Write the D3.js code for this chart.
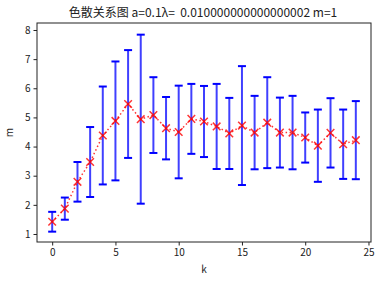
<!DOCTYPE html>
<html>
<head>
<meta charset="utf-8">
<script src="https://cdn.jsdelivr.net/npm/d3@7"></script>
<style>
  body { margin: 0; background: #fff; }
  svg text { font-family: "Noto Sans CJK SC", "DejaVu Sans", sans-serif; fill: #222; }
</style>
</head>
<body>
<svg id="chart"></svg>
<script>
// k values, mean of m and half-width of the error bar
const ks = d3.range(0, 25);
const means = [1.42, 1.87, 2.79, 3.47, 4.38, 4.88, 5.46, 4.94, 5.08, 4.63, 4.50, 4.95, 4.86,
               4.69, 4.45, 4.72, 4.48, 4.82, 4.48, 4.48, 4.31, 4.03, 4.47, 4.08, 4.22];
const errs = [0.34, 0.38, 0.68, 1.20, 1.68, 2.04, 1.85, 2.90, 1.30, 1.07, 1.59, 1.20, 1.22,
              1.46, 1.22, 2.04, 1.26, 1.56, 1.20, 1.26, 0.86, 1.24, 1.19, 1.19, 1.34];
const xTicks = [0, 5, 10, 15, 20, 25];
const yTicks = [1, 2, 3, 4, 5, 6, 7, 8];
const title = "色散关系图 a=0.1λ=  0.010000000000000002 m=1";

const width = 381, height = 284;
const plot = { left: 37, right: 371, top: 23, bottom: 242 };

const svg = d3.select('#chart')
  .attr('width', width)
  .attr('height', height);

const data = ks.map((k, i) => ({ k: k, m: means[i], e: errs[i] }));

const x = d3.scaleLinear().domain([-1.2, 25.2]).range([plot.left, plot.right]);
const y = d3.scaleLinear().domain([0.725, 8.24]).range([plot.bottom, plot.top]);

// axes
svg.append('g')
  .attr('transform', `translate(0, ${plot.bottom})`)
  .call(d3.axisBottom(x).tickValues(xTicks).tickSize(3.5).tickPadding(3).tickFormat(d3.format('d')))
  .call(g => g.select('.domain').remove())
  .call(g => g.selectAll('text').attr('font-size', 10).style('font-family', '"Noto Sans CJK SC", sans-serif'))
  .call(g => g.selectAll('line').attr('stroke', '#222'));

svg.append('g')
  .attr('transform', `translate(${plot.left}, 0)`)
  .call(d3.axisLeft(y).tickValues(yTicks).tickSize(3.5).tickPadding(3).tickFormat(d3.format('d')))
  .call(g => g.select('.domain').remove())
  .call(g => g.selectAll('text').attr('font-size', 10).style('font-family', '"Noto Sans CJK SC", sans-serif'))
  .call(g => g.selectAll('line').attr('stroke', '#222'));

// error bars
const bars = svg.append('g');
bars.selectAll('line.bar')
  .data(data)
  .enter()
  .append('line')
  .attr('x1', d => x(d.k)).attr('x2', d => x(d.k))
  .attr('y1', d => y(d.m - d.e)).attr('y2', d => y(d.m + d.e))
  .attr('stroke', '#0000ff').attr('stroke-opacity', 0.75).attr('stroke-width', 2);

['lo', 'hi'].forEach(side => {
  bars.selectAll('line.cap-' + side)
    .data(data)
    .enter()
    .append('line')
    .attr('x1', d => x(d.k) - 4).attr('x2', d => x(d.k) + 4)
    .attr('y1', d => y(side === 'lo' ? d.m - d.e : d.m + d.e))
    .attr('y2', d => y(side === 'lo' ? d.m - d.e : d.m + d.e))
    .attr('stroke', '#0000ff').attr('stroke-width', 2);
});

// dotted line
svg.append('path')
  .datum(data)
  .attr('fill', 'none')
  .attr('stroke', '#ff0000')
  .attr('stroke-opacity', 0.8)
  .attr('stroke-width', 1.5)
  .attr('stroke-dasharray', '1.5,2.5')
  .attr('d', d3.line().x(d => x(d.k)).y(d => y(d.m)));

// x markers
const s = 3.8;
svg.append('g').selectAll('path')
  .data(data)
  .enter()
  .append('path')
  .attr('d', d => `M${x(d.k) - s},${y(d.m) - s}L${x(d.k) + s},${y(d.m) + s}M${x(d.k) - s},${y(d.m) + s}L${x(d.k) + s},${y(d.m) - s}`)
  .attr('stroke', '#ff0000')
  .attr('stroke-opacity', 0.8)
  .attr('stroke-width', 1.5);

// frame
svg.append('rect')
  .attr('x', plot.left).attr('y', plot.top)
  .attr('width', plot.right - plot.left).attr('height', plot.bottom - plot.top)
  .attr('fill', 'none').attr('stroke', '#222').attr('stroke-width', 1);

// labels
svg.append('text')
  .attr('x', (plot.left + plot.right) / 2 - 1).attr('y', 17)
  .attr('text-anchor', 'middle').attr('font-size', 12)
  .style('white-space', 'pre')
  .text(title);

svg.append('text')
  .attr('x', (plot.left + plot.right) / 2).attr('y', 273)
  .attr('text-anchor', 'middle').attr('font-size', 10)
  .text('k');

svg.append('text')
  .attr('transform', `translate(13, ${(plot.top + plot.bottom) / 2}) rotate(-90)`)
  .attr('text-anchor', 'middle').attr('font-size', 10)
  .text('m');
</script>
</body>
</html>
